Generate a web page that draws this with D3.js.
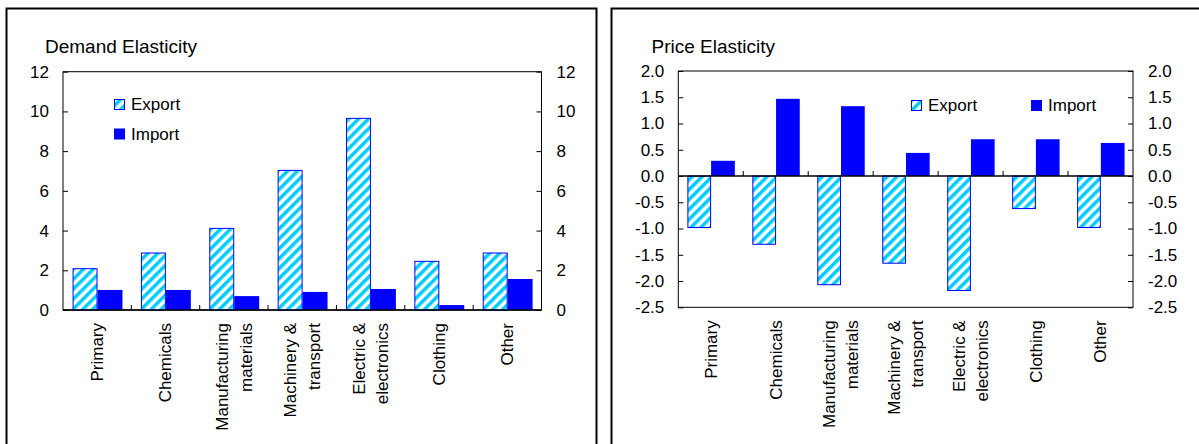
<!DOCTYPE html>
<meta charset="utf-8" />
<script src="https://d3js.org/d3.v7.min.js"></script>
<style>
  body { margin: 0; background: #fff; }
  text { font-family: "Liberation Sans", Arial, sans-serif; fill: #000; }
</style>
<div id="chart"></div>
<script>
  // categories: each entry is the lines of its label
  const categories = ["Primary", "Chemicals", "Manufacturing materials", "Machinery & transport",
    "Electric & electronics", "Clothing", "Other"];
  const categoryLines = [["Primary"], ["Chemicals"], ["Manufacturing", "materials"], ["Machinery &", "transport"],
    ["Electric &", "electronics"], ["Clothing"], ["Other"]];
  const series = ["Export", "Import"];

  // demand elasticity
  const demandExport = [2.08, 2.87, 4.11, 7.03, 9.65, 2.45, 2.87];
  const demandImport = [1.01, 1.01, 0.70, 0.91, 1.06, 0.25, 1.56];
  const demandTicks = [0, 2, 4, 6, 8, 10, 12];

  // price elasticity
  const priceExport = [-0.98, -1.30, -2.07, -1.66, -2.18, -0.62, -0.98];
  const priceImport = [0.29, 1.47, 1.33, 0.44, 0.70, 0.70, 0.63];
  const priceTicks = [2.0, 1.5, 1.0, 0.5, 0.0, -0.5, -1.0, -1.5, -2.0, -2.5];

  const svg = d3.select("#chart").append("svg")
    .attr("width", 1199).attr("height", 444);

  // hatch for export bars
  const pat = svg.append("defs").append("pattern")
    .attr("id", "hatch")
    .attr("patternUnits", "userSpaceOnUse")
    .attr("width", 7).attr("height", 7)
    .attr("patternTransform", "rotate(45)");
  pat.append("rect").attr("width", 7).attr("height", 7).attr("fill", "#fff");
  pat.append("rect").attr("width", 3.5).attr("height", 7).attr("fill", "#00CCFF");

  function panel(cfg) {
    const g = svg.append("g");

    // outer frame
    g.append("rect")
      .attr("x", cfg.frameX).attr("y", 8.5)
      .attr("width", cfg.frameW).attr("height", 460)
      .attr("fill", "none").attr("stroke", "#000").attr("stroke-width", 2);

    g.append("text")
      .attr("x", cfg.titleX).attr("y", 52.5)
      .style("font-size", "19px")
      .text(cfg.title);

    const x = d3.scaleBand().domain(categories).range([cfg.left, cfg.right]);
    const bw = x.bandwidth();
    const x1 = d3.scaleBand().domain(series).range([0.14 * bw, 0.87 * bw]);
    const y = d3.scaleLinear().domain(cfg.domain).range([cfg.bottom, cfg.top]);

    // plot box
    g.append("rect")
      .attr("x", cfg.left).attr("y", cfg.top)
      .attr("width", cfg.right - cfg.left).attr("height", cfg.bottom - cfg.top)
      .attr("fill", "none").attr("stroke", "#000").attr("stroke-width", 1);

    // y axes, ticks pointing inward
    const fmt = cfg.fmt;
    const yl = g.append("g").attr("transform", `translate(${cfg.left},0)`)
      .call(d3.axisLeft(y).tickValues(cfg.ticks).tickSize(-5).tickPadding(14).tickFormat(fmt));
    const yr = g.append("g").attr("transform", `translate(${cfg.right},0)`)
      .call(d3.axisRight(y).tickValues(cfg.ticks).tickSize(-5).tickPadding(15).tickFormat(fmt));
    [yl, yr].forEach(a => {
      a.select(".domain").remove();
      a.selectAll("line").attr("stroke", "#000");
      a.selectAll("text").style("font-size", "17px").style("font-family", "Liberation Sans, Arial, sans-serif");
    });

    const rows = categories.map((c, i) => ({ c, lines: categoryLines[i], ex: cfg.exp[i], im: cfg.imp[i] }));

    const grp = g.selectAll(".cat").data(rows).enter().append("g")
      .attr("transform", d => `translate(${x(d.c)},0)`);

    grp.append("rect")
      .attr("x", x1("Export") + 0.5)
      .attr("y", d => y(Math.max(0, d.ex)))
      .attr("width", x1.bandwidth() - 1)
      .attr("height", d => Math.abs(y(d.ex) - y(0)))
      .attr("fill", "url(#hatch)")
      .attr("stroke", "#0000FF").attr("stroke-width", 1);

    grp.append("rect")
      .attr("x", x1("Import"))
      .attr("y", d => y(Math.max(0, d.im)))
      .attr("width", x1.bandwidth())
      .attr("height", d => Math.abs(y(d.im) - y(0)))
      .attr("fill", "#0000FF");

    // category axis at zero, ticks between categories pointing up
    const y0 = y(0);
    g.append("line")
      .attr("x1", cfg.left).attr("x2", cfg.right)
      .attr("y1", y0).attr("y2", y0)
      .attr("stroke", "#000").attr("stroke-width", 1.6);
    g.selectAll(".ctick").data(categories.slice(1)).enter().append("line")
      .attr("x1", d => x(d)).attr("x2", d => x(d))
      .attr("y1", y0).attr("y2", y0 - 5)
      .attr("stroke", "#000");

    // category labels rotated
    const lab = g.selectAll(".clab").data(rows).enter().append("text")
      .attr("transform", d => `translate(${x(d.c) + bw / 2},${cfg.bottom + 13}) rotate(-90)`)
      .attr("text-anchor", "end")
      .style("font-size", "17px");
    lab.selectAll("tspan").data(d => d.lines.map((t, k) => ({ t, k, n: d.lines.length })))
      .enter().append("tspan")
      .attr("x", 0)
      .attr("y", d => (d.k - (d.n - 1) / 2) * 23.5)
      .attr("dy", "0.35em")
      .text(d => d.t);

    // legend
    cfg.legend.forEach((L, i) => {
      g.append("rect")
        .attr("x", L.x + 0.5).attr("y", L.y + 0.5)
        .attr("width", 10).attr("height", 10)
        .attr("fill", i === 0 ? "url(#hatch)" : "#0000FF")
        .attr("stroke", "#0000FF").attr("stroke-width", 1);
      g.append("text")
        .attr("x", L.x + 17).attr("y", L.y + 11)
        .style("font-size", "17px")
        .text(series[i]);
    });
  }

  panel({
    title: "Demand Elasticity", titleX: 45,
    frameX: 6.5, frameW: 590,
    left: 63, right: 541.5, top: 71.7, bottom: 310,
    domain: [0, 12], ticks: demandTicks, fmt: d3.format("d"),
    exp: demandExport, imp: demandImport,
    legend: [{ x: 114, y: 99 }, { x: 114, y: 128.5 }]
  });

  panel({
    title: "Price Elasticity", titleX: 651.5,
    frameX: 611.5, frameW: 600,
    left: 678.3, right: 1133, top: 71, bottom: 307.3,
    domain: [-2.5, 2], ticks: priceTicks, fmt: d => d.toFixed(1),
    exp: priceExport, imp: priceImport,
    legend: [{ x: 911, y: 100 }, { x: 1031, y: 100 }]
  });
</script>
